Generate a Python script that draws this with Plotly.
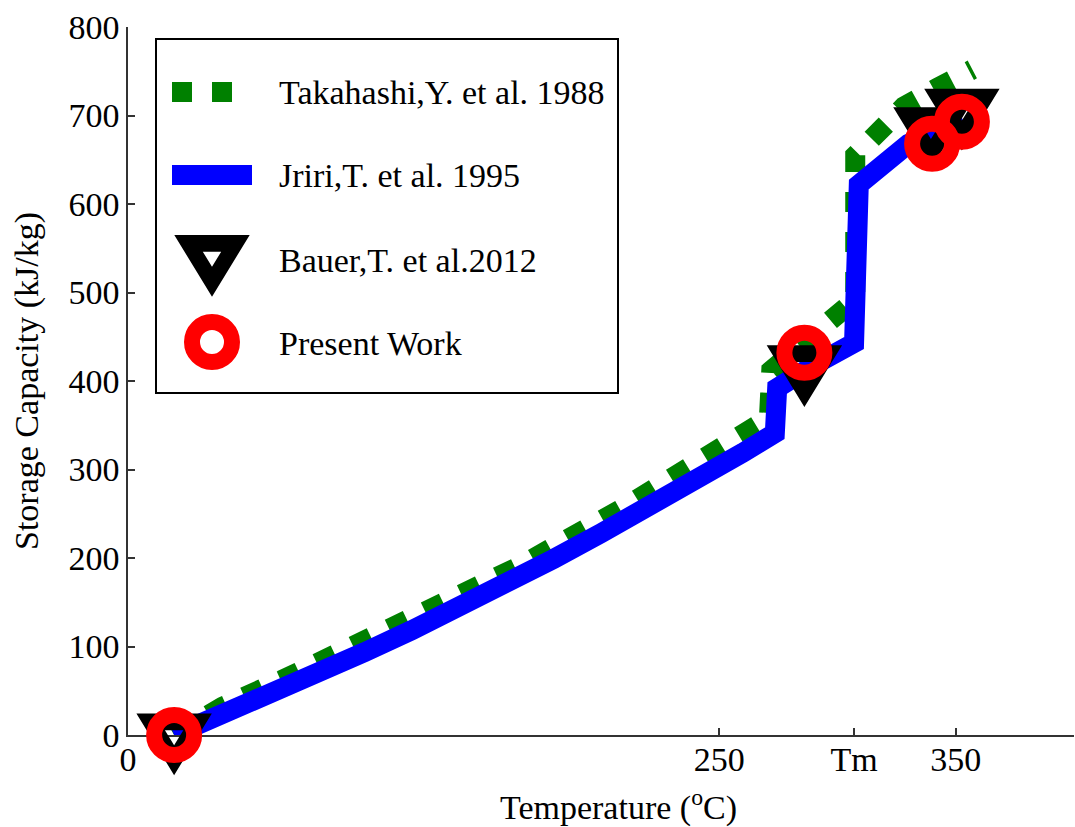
import plotly.graph_objects as go

# Takahashi, Y. et al. 1988 (dashed green)
taka_T = [19.5, 40, 65, 90, 123, 165, 209, 234, 247, 261, 271, 272, 287, 299, 307.5, 307.5, 316, 328, 342, 357]
taka_Q = [0, 32, 62, 93, 135, 190, 256, 298, 320, 344, 358, 412, 447, 477, 492, 655, 680, 710, 731, 752]

# Jriri, T. et al. 1995 (solid blue)
jriri_T = [19.5, 40, 60, 81, 100, 120, 144, 160, 180, 200, 220, 240, 250, 260, 273.5, 274.5, 290, 307, 309, 330, 353]
jriri_Q = [0, 22.5, 45, 70.5, 93.5, 118.5, 149, 170, 199, 228, 257, 287, 303, 319, 341, 392, 418, 443, 622, 668, 695]

# Bauer, T. et al. 2012 (triangles)
bauer_T = [19.5, 286, 339.5, 352.6]
bauer_Q = [0, 416, 685, 706]

# Present work (circles)
present_T = [19.5, 286, 340, 352.6]
present_Q = [0, 432, 668, 693]

# Axis ticks
x_tickvals = [0, 250, 307, 350, 400]
x_ticktext = ["0", "250", "Tm", "350", ""]
y_tickvals = [0, 100, 200, 300, 400, 500, 600, 700, 800]

legend_names = ["Takahashi,Y. et al. 1988", "Jriri,T. et al. 1995",
                "Bauer,T. et al.2012", "Present Work"]

X_RANGE = [0, 400]
Y_RANGE = [0, 800]

FONT = "Liberation Serif, Times New Roman, Times, DejaVu Serif, serif"
FS = 34
AXIS_COLOR = "#333333"
GREEN, BLUE, BLACK, RED = "#008000", "#0000ff", "#000000", "#ff0000"
CLEAR = "rgba(0,0,0,0)"

# Page layout in pixels: the paper area runs to the bottom edge so that
# markers sitting on the x axis can spill below it.
FIG_W, FIG_H = 1075, 827
M_L, M_R, M_T, M_B = 128, 1, 27, 0
AXIS_BOTTOM_PX = 735
PAPER_H = FIG_H - M_T - M_B
PLOT_W = FIG_W - M_L - M_R
PLOT_H = AXIS_BOTTOM_PX - M_T
Y_DOM0 = (FIG_H - M_B - AXIS_BOTTOM_PX) / PAPER_H
# marker layer: same data scale as the main y axis, extended down to the page edge
Y3_LOW = Y_RANGE[0] - (Y_RANGE[1] - Y_RANGE[0]) * Y_DOM0 / (1 - Y_DOM0)

# Marker glyphs in pixel units around their anchor (y up):
# thick-edged downward triangle with a hollow centre, and a thick ring
TRI_PATH = ("M-37.7,21.5 L37.7,21.5 L0,-40.2 Z "
            "M-9.2,4.8 L0,-10.2 L9.2,4.8 Z")
RING_R, RING_W = 20, 16


def triangle(x, y, xref, yref):
    return dict(type="path", path=TRI_PATH, xref=xref, yref=yref,
                xsizemode="pixel", ysizemode="pixel", xanchor=x, yanchor=y,
                fillcolor=BLACK, fillrule="evenodd", line=dict(width=0),
                layer="above")


def ring(x, y, xref, yref):
    return dict(type="circle", xref=xref, yref=yref,
                xsizemode="pixel", ysizemode="pixel", xanchor=x, yanchor=y,
                x0=-RING_R, x1=RING_R, y0=-RING_R, y1=RING_R,
                fillcolor=CLEAR, line=dict(color=RED, width=RING_W),
                layer="above")


fig = go.Figure()

green_line = dict(color=GREEN, width=20, dash="20px,20px")
blue_line = dict(color=BLUE, width=20)

# empty trace so the marker-layer subplot exists (drawn first, underneath)
fig.add_trace(go.Scatter(x=[], y=[], xaxis="x3", yaxis="y3", showlegend=False,
                         hoverinfo="skip"))
fig.add_trace(go.Scatter(x=taka_T, y=taka_Q, mode="lines", name=legend_names[0],
                         line=green_line, cliponaxis=False, showlegend=False))
fig.add_trace(go.Scatter(x=jriri_T, y=jriri_Q, mode="lines", name=legend_names[1],
                         line=blue_line, cliponaxis=False, showlegend=False))

# Legend box laid out on a pixel-unit overlay axis (origin at bottom-left of plot area)
box_x0, box_x1, box_y0, box_y1 = 28, 490, 342, 696
row_y = [643, 560, 475, 392]
sym_x0, sym_x1, sym_xc = 44, 124, 84
text_x = 149

fig.add_trace(go.Scatter(x=[sym_x0, sym_x1], y=[row_y[0]] * 2, mode="lines",
                         line=green_line, xaxis="x2", yaxis="y2",
                         showlegend=False, hoverinfo="skip"))
fig.add_trace(go.Scatter(x=[sym_x0, sym_x1], y=[row_y[1]] * 2, mode="lines",
                         line=blue_line, xaxis="x2", yaxis="y2",
                         showlegend=False, hoverinfo="skip"))

shapes = [dict(type="rect", xref="x2", yref="y2",
               x0=box_x0, x1=box_x1, y0=box_y0, y1=box_y1,
               line=dict(color=BLACK, width=2), fillcolor="white", layer="below")]
# Bauer points, then Present Work rings on top of them
shapes += [triangle(t, q, "x3", "y3") for t, q in zip(bauer_T, bauer_Q)]
shapes += [ring(t, q, "x3", "y3") for t, q in zip(present_T, present_Q)]
# legend symbols
shapes.append(triangle(sym_xc, row_y[2] + 3.5, "x2", "y2"))
shapes.append(ring(sym_xc, row_y[3] + 1, "x2", "y2"))

annotations = [
    dict(text=name, xref="x2", yref="y2", x=text_x, y=yy, xanchor="left",
         yanchor="middle", showarrow=False, font=dict(family=FONT, size=FS, color=BLACK))
    for name, yy in zip(legend_names, row_y)
]
annotations += [
    dict(text="Temperature (<sup>o</sup>C)", xref="x domain", yref="y domain",
         x=0.518, y=0, yshift=-70, xanchor="center", yanchor="middle",
         showarrow=False, font=dict(family=FONT, size=FS, color=BLACK)),
    dict(text="Storage Capacity (kJ/kg)", xref="x domain", yref="y domain",
         x=0, y=0.5, xshift=-101, xanchor="center", yanchor="middle",
         textangle=-90, showarrow=False, font=dict(family=FONT, size=FS, color=BLACK)),
]

hidden = dict(visible=False, fixedrange=True, showgrid=False, zeroline=False,
              automargin=False)

fig.update_layout(
    width=FIG_W, height=FIG_H,
    margin=dict(l=M_L, r=M_R, t=M_T, b=M_B, autoexpand=False),
    paper_bgcolor="white", plot_bgcolor=CLEAR,
    font=dict(family=FONT, size=FS, color=BLACK),
    showlegend=False,
    xaxis=dict(
        range=X_RANGE, tickvals=x_tickvals, ticktext=x_ticktext, anchor="y",
        ticks="inside", ticklen=7, tickcolor=AXIS_COLOR, tickwidth=1.5,
        showline=True, linecolor=AXIS_COLOR, linewidth=1.5,
        showgrid=False, zeroline=False, automargin=False,
        tickfont=dict(family=FONT, size=FS, color=BLACK), ticklabelstandoff=-7,
    ),
    yaxis=dict(
        range=Y_RANGE, tickvals=y_tickvals, domain=[Y_DOM0, 1], anchor="x",
        ticks="inside", ticklen=7, tickcolor=AXIS_COLOR, tickwidth=1.5,
        showline=True, linecolor=AXIS_COLOR, linewidth=1.5,
        showgrid=False, zeroline=False, automargin=False,
        tickfont=dict(family=FONT, size=FS, color=BLACK), ticklabelstandoff=0,
    ),
    xaxis2=dict(range=[0, PLOT_W], overlaying="x", **hidden),
    yaxis2=dict(range=[0, PLOT_H], overlaying="y", **hidden),
    xaxis3=dict(range=X_RANGE, domain=[0, 1], anchor="y3", **hidden),
    yaxis3=dict(range=[Y3_LOW, Y_RANGE[1]], domain=[0, 1], anchor="x3", **hidden),
    shapes=shapes,
    annotations=annotations,
)

fig.write_html("out.html")
